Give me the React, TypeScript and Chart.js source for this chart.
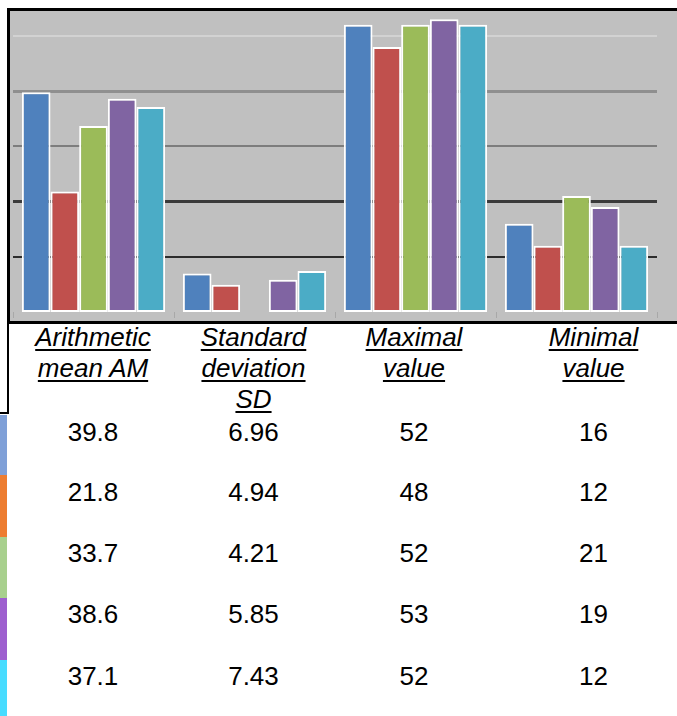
import React, { useEffect, useRef } from "react";
import { Chart, registerables } from "chart.js";

Chart.register(...registerables);

// Statistic names shown under the bars (one array entry per line)
const categoryLines: string[][] = [
  ["Arithmetic", "mean AM"],
  ["Standard", "deviation", "SD"],
  ["Maximal", "value"],
  ["Minimal", "value"],
];

// One series per group: AM, SD, max, min
const blueValues = [39.8, 6.96, 52, 16];
const redValues = [21.8, 4.94, 48, 12];
const greenValues = [33.7, 4.21, 52, 21];
const purpleValues = [38.6, 5.85, 53, 19];
const tealValues = [37.1, 7.43, 52, 12];

// Category indices whose bar is left out of the plot for a series
const greenOmitted = [1];

const yGridValues = [10, 20, 30, 40, 50];
const yMax = 54.5;

const barColors = ["#4f81bd", "#c0504d", "#9bbb59", "#8064a2", "#4bacc6"];
const swatchColors = ["#7fa0d8", "#ed7d31", "#a8d08d", "#9e5fcf", "#47dcff"];

// Each gridline has its own weight and shade
const gridStyle: Record<number, { color: string; width: number }> = {
  10: { color: "#2c2c2c", width: 2 },
  20: { color: "#3a3a3a", width: 3 },
  30: { color: "#7d7d7d", width: 2 },
  40: { color: "#8f8f8f", width: 3 },
  50: { color: "#d2d2d2", width: 2 },
};

const seriesValues = [blueValues, redValues, greenValues, purpleValues, tealValues];
const seriesOmitted: number[][] = [[], [], greenOmitted, [], []];

const columnCenters = [93, 253.5, 414, 593.5];
const rowCenters = [432, 492, 553, 614, 676];
const swatchBounds = [415, 475, 537, 598, 660, 716];

const FONT = "'Liberation Sans', Arial, sans-serif";

function BarChart() {
  const canvasRef = useRef<HTMLCanvasElement | null>(null);

  useEffect(() => {
    if (!canvasRef.current) return;
    const chart = new Chart(canvasRef.current, {
      type: "bar",
      data: {
        labels: categoryLines,
        datasets: seriesValues.map((vals, s) => ({
          label: `series ${s + 1}`,
          data: vals.map((v, i) => (seriesOmitted[s].includes(i) ? null : v)),
          backgroundColor: barColors[s],
          borderColor: "#ffffff",
          borderWidth: 2,
          borderSkipped: false,
          categoryPercentage: 0.89,
          barPercentage: 1,
        })),
      },
      options: {
        animation: false,
        responsive: false,
        maintainAspectRatio: false,
        layout: { padding: { left: 3, right: 20, top: 0, bottom: 0 } },
        plugins: { legend: { display: false }, tooltip: { enabled: false } },
        scales: {
          x: {
            ticks: { display: false },
            border: { display: false },
            grid: {
              offset: true,
              drawOnChartArea: false,
              drawTicks: true,
              tickLength: 6,
              color: "#a8a8a8",
              lineWidth: 1,
            },
          },
          y: {
            min: 0,
            max: yMax,
            ticks: { display: false, stepSize: 10 },
            border: { display: false },
            grid: {
              drawTicks: false,
              color: (ctx: any) => gridStyle[ctx.tick?.value]?.color ?? "rgba(0,0,0,0)",
              lineWidth: (ctx: any) => gridStyle[ctx.tick?.value]?.width ?? 0,
            },
            afterBuildTicks: (scale: any) => {
              scale.ticks = yGridValues.map((v) => ({ value: v }));
            },
          },
        },
      },
    });
    return () => chart.destroy();
  }, []);

  return (
    <canvas
      ref={canvasRef}
      width={667}
      height={307}
      style={{ position: "absolute", left: 10, top: 11, width: 667, height: 307 }}
    />
  );
}

export default function App() {
  return (
    <div
      style={{
        position: "absolute",
        left: 0,
        top: 0,
        width: 677,
        height: 716,
        background: "#ffffff",
        overflow: "hidden",
        fontFamily: FONT,
        color: "#000",
      }}
    >
      {/* plot frame */}
      <div
        style={{
          position: "absolute",
          left: 7,
          top: 8,
          width: 680,
          height: 310,
          background: "#c0c0c0",
          borderTop: "3px solid #000",
          borderLeft: "3px solid #000",
          borderBottom: "3px solid #000",
        }}
      />
      <BarChart />
      {/* lower corner of the frame */}
      <div
        style={{
          position: "absolute",
          left: -10,
          top: 320,
          width: 17,
          height: 92,
          borderRight: "2px solid #000",
          borderBottom: "2px solid #000",
        }}
      />

      {/* statistic headers */}
      {categoryLines.map((lines, c) => (
        <div
          key={c}
          style={{
            position: "absolute",
            left: columnCenters[c] - 100,
            top: 322,
            width: 200,
            textAlign: "center",
            fontSize: 26,
            lineHeight: "31px",
            fontStyle: "italic",
          }}
        >
          {lines.map((ln, i) => (
            <div key={i}>
              <span
                style={{
                  textDecoration: "underline",
                  textDecorationThickness: "2px",
                  textUnderlineOffset: "3px",
                }}
              >
                {ln}
              </span>
            </div>
          ))}
        </div>
      ))}

      {/* series swatches */}
      {swatchColors.map((col, r) => (
        <div
          key={r}
          style={{
            position: "absolute",
            left: 0,
            top: swatchBounds[r],
            width: 7,
            height: swatchBounds[r + 1] - swatchBounds[r],
            background: col,
          }}
        />
      ))}

      {/* value table */}
      {seriesValues.map((vals, r) =>
        vals.map((v, c) => (
          <div
            key={`${r}-${c}`}
            style={{
              position: "absolute",
              left: columnCenters[c] - 60,
              top: rowCenters[r] - 15,
              width: 120,
              textAlign: "center",
              fontSize: 26,
              lineHeight: "30px",
            }}
          >
            {String(v)}
          </div>
        ))
      )}
    </div>
  );
}
